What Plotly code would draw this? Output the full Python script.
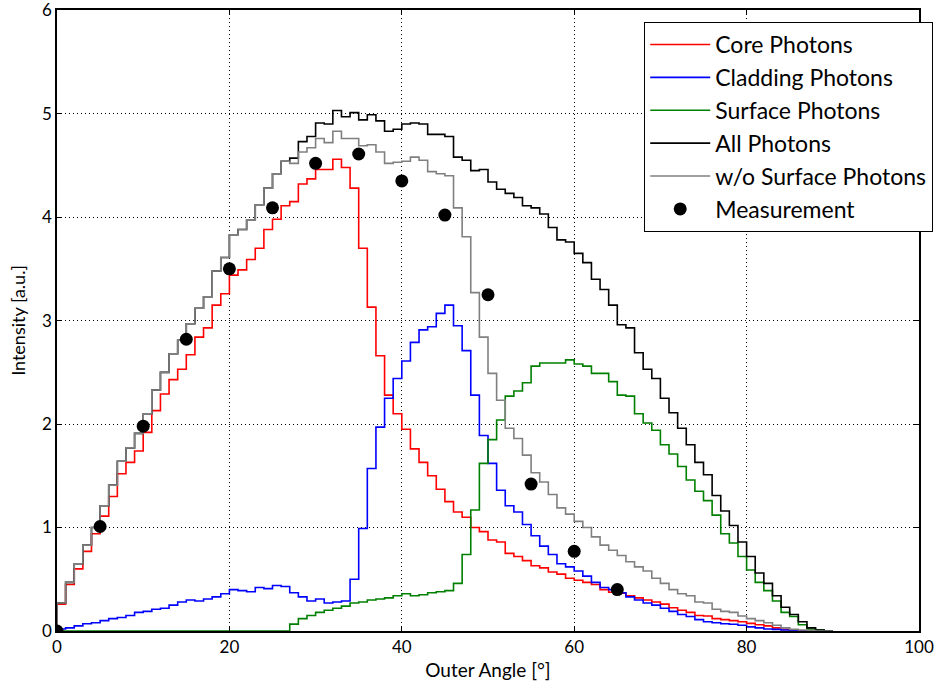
import numpy as np
import plotly.graph_objects as go

# bins of 1 degree starting at 0
bin_width = 1.0

core = [0.26, 0.45, 0.60, 0.77, 0.94, 1.11, 1.30, 1.52, 1.63, 1.74,
        1.92, 2.13, 2.29, 2.43, 2.53, 2.67, 2.84, 2.93, 3.15, 3.26,
        3.44, 3.49, 3.59, 3.70, 3.88, 3.98, 4.11, 4.15, 4.32, 4.37,
        4.46, 4.46, 4.56, 4.48, 4.28, 3.70, 3.13, 2.66, 2.28, 2.10,
        1.95, 1.76, 1.63, 1.50, 1.37, 1.25, 1.15, 1.10, 1.00, 0.96,
        0.88, 0.86, 0.75, 0.72, 0.68, 0.63, 0.61, 0.57, 0.55, 0.51,
        0.49, 0.47, 0.45, 0.40, 0.375, 0.365, 0.34, 0.32, 0.30, 0.28,
        0.26, 0.225, 0.20, 0.18, 0.15, 0.145, 0.12, 0.11, 0.10, 0.09,
        0.074, 0.06, 0.05, 0.03, 0.016, 0.006, 0.003, 0.0, 0.0, 0.0]

cladding = [0.02, 0.03, 0.05, 0.07, 0.08, 0.10, 0.12, 0.13, 0.15, 0.18,
            0.19, 0.21, 0.22, 0.25, 0.28, 0.30, 0.29, 0.31, 0.33, 0.36,
            0.40, 0.39, 0.38, 0.42, 0.41, 0.44, 0.43, 0.37, 0.33, 0.29,
            0.31, 0.27, 0.28, 0.29, 0.50, 0.99, 1.57, 1.97, 2.25, 2.44,
            2.61, 2.79, 2.91, 2.94, 3.07, 3.15, 2.95, 2.71, 2.28, 1.89,
            1.62, 1.36, 1.21, 1.15, 1.03, 0.92, 0.82, 0.74, 0.65, 0.62,
            0.58, 0.53, 0.47, 0.42, 0.40, 0.37, 0.33, 0.30, 0.27, 0.25,
            0.22, 0.19, 0.16, 0.14, 0.11, 0.09, 0.08, 0.07, 0.065, 0.055,
            0.04, 0.03, 0.02, 0.016, 0.01, 0.003, 0.0, 0.0, 0.0, 0.0]

surface = [0.0, 0.0, 0.0, 0.0, 0.0, 0.0, 0.0, 0.0, 0.0, 0.0,
           0.0, 0.0, 0.0, 0.0, 0.0, 0.0, 0.0, 0.0, 0.0, 0.0,
           0.0, 0.0, 0.0, 0.0, 0.0, 0.0, 0.0, 0.066, 0.12, 0.15,
           0.18, 0.20, 0.22, 0.24, 0.27, 0.28, 0.30, 0.31, 0.32, 0.34,
           0.36, 0.34, 0.35, 0.37, 0.38, 0.39, 0.46, 0.74, 1.17, 1.62,
           1.85, 2.04, 2.27, 2.32, 2.40, 2.56, 2.59, 2.59, 2.59, 2.62,
           2.58, 2.56, 2.49, 2.49, 2.41, 2.28, 2.27, 2.10, 2.01, 1.94,
           1.80, 1.71, 1.59, 1.46, 1.35, 1.26, 1.12, 0.94, 0.85, 0.72,
           0.59, 0.47, 0.39, 0.29, 0.18, 0.14, 0.06, 0.02, 0.01, 0.0]

all_photons = [0.27, 0.47, 0.65, 0.83, 1.00, 1.21, 1.41, 1.64, 1.77, 1.91,
               2.10, 2.33, 2.50, 2.68, 2.81, 2.97, 3.12, 3.23, 3.48, 3.61,
               3.83, 3.88, 3.97, 4.12, 4.28, 4.42, 4.54, 4.57, 4.73, 4.78,
               4.91, 4.90, 5.03, 4.97, 5.01, 4.94, 4.99, 4.93, 4.83, 4.85,
               4.90, 4.91, 4.90, 4.80, 4.80, 4.78, 4.58, 4.55, 4.45, 4.46,
               4.34, 4.27, 4.23, 4.19, 4.11, 4.09, 4.03, 3.90, 3.78, 3.76,
               3.65, 3.56, 3.40, 3.30, 3.15, 2.96, 2.93, 2.69, 2.53, 2.44,
               2.25, 2.11, 1.96, 1.80, 1.63, 1.51, 1.31, 1.16, 1.02, 0.86,
               0.72, 0.56, 0.46, 0.34, 0.23, 0.16, 0.09, 0.03, 0.01, 0.0]

without_surface = [0.27, 0.47, 0.65, 0.83, 1.00, 1.21, 1.41, 1.64, 1.77, 1.91,
                   2.10, 2.33, 2.50, 2.68, 2.81, 2.97, 3.12, 3.23, 3.48, 3.61,
                   3.83, 3.88, 3.97, 4.12, 4.28, 4.42, 4.54, 4.52, 4.63, 4.67,
                   4.76, 4.72, 4.83, 4.76, 4.76, 4.69, 4.70, 4.63, 4.52, 4.53,
                   4.54, 4.58, 4.55, 4.44, 4.42, 4.40, 4.09, 3.81, 3.27, 2.84,
                   2.49, 2.23, 1.96, 1.86, 1.70, 1.53, 1.44, 1.32, 1.19, 1.13,
                   1.06, 1.00, 0.91, 0.83, 0.78, 0.73, 0.67, 0.62, 0.58, 0.51,
                   0.46, 0.40, 0.36, 0.34, 0.28, 0.27, 0.21, 0.19, 0.18, 0.145,
                   0.12, 0.10, 0.08, 0.055, 0.03, 0.016, 0.01, 0.005, 0.0, 0.0]

meas_angle = [0, 5, 10, 15, 20, 25, 30, 35, 40, 45, 50, 55, 60, 65]
meas_value = [0.0, 1.01, 1.98, 2.82, 3.50, 4.09, 4.52, 4.61, 4.35, 4.02,
              3.25, 1.42, 0.77, 0.40]

x_ticks = [0, 20, 40, 60, 80, 100]
y_ticks = [0, 1, 2, 3, 4, 5, 6]

FONT = "Lato"


def step_xy(values):
    n = len(values)
    edges = np.arange(n + 1) * bin_width
    xs = np.concatenate([[edges[0]], edges[:-1], [edges[-1]]])
    ys = np.concatenate([[0.0], np.asarray(values, float), [0.0]])
    return xs, ys


series = [
    ("Core Photons", core, "#ff0000"),
    ("Cladding Photons", cladding, "#0000ff"),
    ("Surface Photons", surface, "#008000"),
    ("All Photons", all_photons, "#000000"),
    ("w/o Surface Photons", without_surface, "#808080"),
]

fig = go.Figure()
for i, (name, vals, col) in enumerate(series):
    xs, ys = step_xy(vals)
    fig.add_trace(go.Scatter(x=xs, y=ys, mode="lines", name=name,
                             line=dict(color=col, width=1.6, shape="hv"),
                             legendgroup=f"g{i}"))

fig.add_trace(go.Scatter(x=meas_angle, y=meas_value, mode="markers",
                         name="Measurement", legendgroup="g9",
                         marker=dict(color="black", size=13)))

axis_common = dict(showline=True, linecolor="black", linewidth=1.5, mirror="ticks",
                   ticks="inside", ticklen=5, tickwidth=1, tickcolor="black",
                   showgrid=True, gridcolor="black", gridwidth=0.8, griddash="1px,3px",
                   zeroline=False, ticklabeloverflow="allow",
                   tickfont=dict(family=FONT, size=17, color="black"))

fig.update_xaxes(range=[0, 100], tickvals=x_ticks,
                 title=dict(text="Outer Angle [°]", font=dict(family=FONT, size=19, color="black"),
                            standoff=8),
                 **axis_common)
fig.update_yaxes(range=[0, 6.002], tickvals=y_ticks,
                 title=dict(text="Intensity [a.u.]", font=dict(family=FONT, size=18, color="black"),
                            standoff=12),
                 **axis_common)

fig.update_layout(
    width=946, height=690,
    margin=dict(l=57, r=27, t=10, b=59, autoexpand=False),
    paper_bgcolor="white", plot_bgcolor="white",
    font=dict(family=FONT, color="black"),
    showlegend=True,
    legend=dict(x=0.681, y=0.981, xanchor="left", yanchor="top",
                bgcolor="white", bordercolor="black", borderwidth=1.2,
                font=dict(family=FONT, size=23, color="black"),
                traceorder="grouped", tracegroupgap=0, itemwidth=60),
)

fig.write_html("out.html")
